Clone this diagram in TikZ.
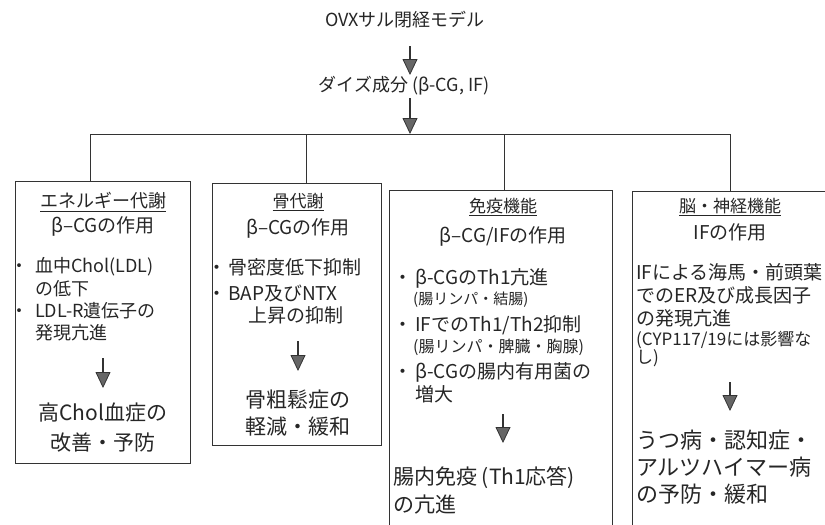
\documentclass[tikz,border=0pt]{standalone}
\usepackage{fontspec}
\newfontfamily\jp{Noto Sans CJK JP}
\usetikzlibrary{arrows.meta}
\newcommand\bul[1]{\llap{\makebox[#1][c]{・}}}
\begin{document}
\begin{tikzpicture}[x=1pt,y=-1pt,
  ln/.style={draw=black!80, line width=0.9pt},
  boxs/.style={draw=black!80, line width=0.9pt, anchor=north west, inner sep=0pt},
  arr/.style={draw=black!80, line width=1.3pt, -{Triangle[width=15pt,length=16pt,fill=black!60,line width=0.8pt]}},
  tl/.style={font=\jp\fontsize{#1}{#1}\selectfont, inner sep=0pt, anchor=west, text=black!85},
  tc/.style={font=\jp\fontsize{#1}{#1}\selectfont, inner sep=0pt, text=black!85},
]
\clip (0,0) rectangle (825,525);
\fill[white] (0,0) rectangle (825,525);

% top
\node[tc=18] (title) at (405,20) {OVXサル閉経モデル};
\node[tc=18] (soy) at (404,86) {ダイズ成分 (β-CG, IF)};
\coordinate (a0s) at (410,46);
\coordinate (a0e) at (410,75);
\draw[arr] (a0s) -- (a0e);
\coordinate (bus) at (410,134);
\coordinate (a1s) at (410,98);
\draw[arr] (a1s) -- (bus);

% boxes
\node[boxs, minimum width=175, minimum height=282] (b1) at (15,181) {};
\node[boxs, minimum width=169, minimum height=262] (b2) at (212,183) {};
\node[boxs, minimum width=223, minimum height=360] (b3) at (389,190) {};
\node[boxs, minimum width=230, minimum height=360] (b4) at (632,191) {};

% bus and drops
\coordinate (j1) at (90,134);
\coordinate (j2) at (306,134);
\coordinate (j3) at (504,134);
\coordinate (j4) at (730,134);
\draw[ln] (j1) -- (j4);
\draw[ln] (j1) -- (j1 |- b1.north);
\draw[ln] (j2) -- (j2 |- b2.north);
\draw[ln] (j3) -- (j3 |- b3.north);
\draw[ln] (j4) -- (j4 |- b4.north);

% box 1
\node[tc=18] (h1) at (103,202) {\underline{エネルギー代謝}};
\node[tc=19] (s1) at (103,226) {β–CGの作用};
\node[tl=18] (p11) at (35,267) {\bul{32pt}血中Chol(LDL)};
\node[tl=18] (p12) at (35,289) {の低下};
\node[tl=18] (p13) at (35,311) {\bul{32pt}LDL-R遺伝子の};
\node[tl=18] (p14) at (35,333) {発現亢進};
\coordinate (c1s) at (103,358);
\coordinate (c1e) at (103,388);
\draw[arr] (c1s) -- (c1e);
\node[tc=21] (r11) at (103,413) {高Chol血症の};
\node[tc=21] (r12) at (103,443) {改善・予防};

% box 2
\node[tc=17] (h2) at (298,202) {\underline{骨代謝}};
\node[tc=19] (s2) at (298,228) {β–CGの作用};
\node[tl=19] (p21) at (228,267) {\bul{22pt}骨密度低下抑制};
\node[tl=19] (p22) at (228,293) {\bul{22pt}BAP及びNTX};
\node[tl=19] (p23) at (248,315) {上昇の抑制};
\coordinate (c2s) at (298,341);
\coordinate (c2e) at (298,371);
\draw[arr] (c2s) -- (c2e);
\node[tc=21] (r21) at (298,400) {骨粗鬆症の};
\node[tc=21] (r22) at (298,427) {軽減・緩和};

% box 3
\node[tc=17] (h3) at (503,207) {\underline{免疫機能}};
\node[tc=19] (s3) at (503,236) {β–CG/IFの作用};
\node[tl=19] (p31) at (415,278) {\bul{24pt}β-CGのTh1亢進};
\node[tl=15] (p32) at (413,300) {(腸リンパ・結腸)};
\node[tl=19] (p33) at (415,325) {\bul{24pt}IFでのTh1/Th2抑制};
\node[tl=16] (p34) at (413,347) {(腸リンパ・脾臓・胸腺)};
\node[tl=19] (p35) at (415,372) {\bul{24pt}β-CGの腸内有用菌の};
\node[tl=19] (p36) at (415,394) {増大};
\coordinate (c3s) at (503,414);
\coordinate (c3e) at (503,443);
\draw[arr] (c3s) -- (c3e);
\node[tl=21] (r31) at (393,478) {腸内免疫 (Th1応答)};
\node[tl=21] (r32) at (393,505) {の亢進};

% box 4
\node[tc=17] (h4) at (730,207) {\underline{脳・神経機能}};
\node[tc=19] (s4) at (730,232) {IFの作用};
\node[tl=19] (p41) at (636,272) {IFによる海馬・前頭葉};
\node[tl=19] (p42) at (636,295) {でのER及び成長因子};
\node[tl=19] (p43) at (636,318) {の発現亢進};
\node[tl=17] (p44) at (636,340) {(CYP117/19には影響な};
\node[tl=17] (p45) at (636,358) {し)};
\coordinate (c4s) at (730,382);
\coordinate (c4e) at (730,411);
\draw[arr] (c4s) -- (c4e);
\node[tl=22] (r41) at (636,440) {うつ病・認知症・};
\node[tl=22] (r42) at (636,467) {アルツハイマー病};
\node[tl=22] (r43) at (636,494) {の予防・緩和};
\end{tikzpicture}
\end{document}
